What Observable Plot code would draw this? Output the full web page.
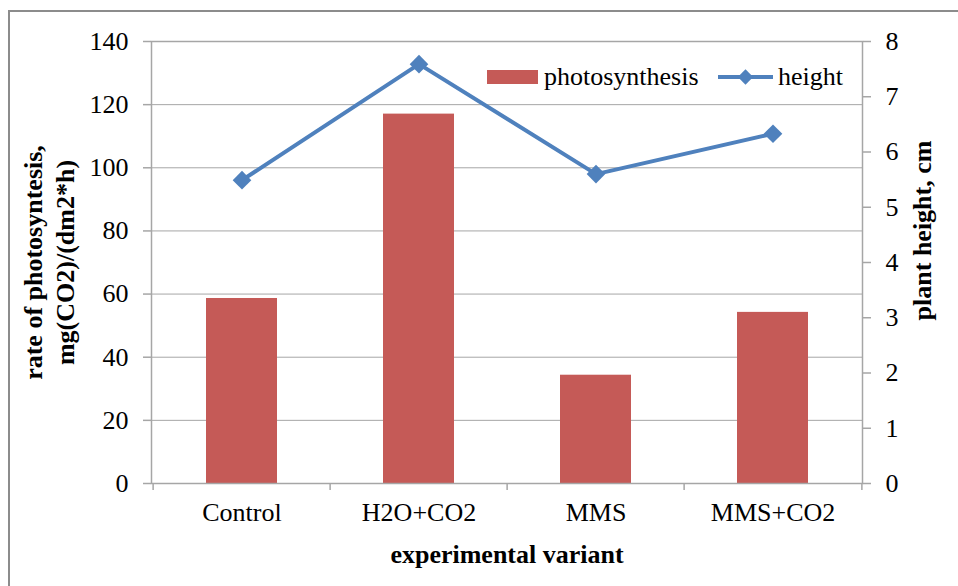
<!DOCTYPE html>
<html>
<head>
<meta charset="utf-8">
<script src="https://cdn.jsdelivr.net/npm/d3@7"></script>
<script src="https://cdn.jsdelivr.net/npm/@observablehq/plot@0.6"></script>
<style>
  html, body { margin: 0; padding: 0; background: white; }
  #wrap { position: relative; width: 958px; height: 586px; overflow: hidden; background: white; }
  #border { position: absolute; left: 8px; top: 10px; width: 2000px; height: 2000px;
            border-left: 2px solid #8c8c8c; border-top: 2px solid #8c8c8c; pointer-events: none; }
  #chart { position: absolute; left: 0; top: 0; }
</style>
</head>
<body>
<div id="wrap"><div id="chart"></div><div id="border"></div></div>
<script>
// ---- data ----
const categories = ["Control", "H2O+CO2", "MMS", "MMS+CO2"];
const photosynthesis = [58.6, 117, 34.3, 54.2];
const plantHeight = [5.49, 7.59, 5.6, 6.33];
const leftTicks = [0, 20, 40, 60, 80, 100, 120, 140];
const rightTicks = [0, 1, 2, 3, 4, 5, 6, 7, 8];
const leftMax = 140, rightMax = 8;

// ---- layout ----
const W = 958, H = 586;
const mL = 151, mR = 96, mT = 41, mB = 103;
const step = (W - mL - mR) / categories.length;
const k = leftMax / rightMax; // right axis -> left axis units
const red = "#c55a57", blue = "#4f81bd", gray = "#a6a6a6";
const font = "'Liberation Serif', 'Times New Roman', serif";

const rows = categories.map((c, i) => ({variant: c, photo: photosynthesis[i], height: plantHeight[i]}));

const plot = Plot.plot({
  width: W, height: H,
  marginLeft: mL, marginRight: mR, marginTop: mT, marginBottom: mB,
  style: {fontFamily: font, fontSize: "26px", color: "black", background: "white", overflow: "visible"},
  x: {type: "band", domain: categories, paddingInner: 0.6, paddingOuter: 0.3},
  y: {domain: [0, leftMax], nice: false},
  marks: [
    Plot.gridY(leftTicks, {stroke: gray, strokeOpacity: 1}),
    Plot.barY(rows, {x: "variant", y: "photo", fill: red}),
    Plot.frame({stroke: gray, strokeWidth: 1.5}),
    Plot.axisY(leftTicks, {anchor: "left", tickSize: 8, tickPadding: 15, stroke: gray, strokeWidth: 1.5, fill: "black", label: null}),
    Plot.axisY(rightTicks.map(v => v * k), {anchor: "right", tickSize: 8, tickPadding: 15, stroke: gray, strokeWidth: 1.5, fill: "black", label: null,
      tickFormat: d => String(Math.round(d / k))}),
    Plot.axisX(categories, {anchor: "bottom", tickSize: 7, stroke: gray, strokeWidth: 1.5, fill: "none", dx: -step / 2, label: null}),
    Plot.axisX([categories[categories.length - 1]], {anchor: "bottom", tickSize: 7, stroke: gray, strokeWidth: 1.5, fill: "none", dx: step / 2, label: null}),
    Plot.axisX(categories, {anchor: "bottom", tickSize: 0, tickPadding: 19, fill: "black", label: null}),
    Plot.line(rows, {x: "variant", y: d => d.height * k, stroke: blue, strokeWidth: 4, strokeLinejoin: "round"}),
    Plot.dot(rows, {x: "variant", y: d => d.height * k, symbol: "diamond2", r: 8.4, fill: blue, stroke: "none"}),
    Plot.text(["rate of photosyntesis,\nmg(CO2)/(dm2*h)"], {frameAnchor: "left", dx: -104, rotate: -90, textAnchor: "middle", fontWeight: "bold", lineHeight: 1.25, text: d => d}),
    Plot.text(["plant height, cm"], {frameAnchor: "right", dx: 60, dy: -32, rotate: -90, textAnchor: "middle", fontWeight: "bold", text: d => d}),
    Plot.text(["experimental variant"], {frameAnchor: "bottom", dy: 79, fontWeight: "bold", text: d => d})
  ]
});
document.getElementById("chart").appendChild(plot);

// ---- legend (inside plot, top right) ----
const svg = d3.select(plot);
const lg = svg.append("g").attr("font-family", font).attr("font-size", 26).attr("text-anchor", "start");
lg.append("rect").attr("x", 487).attr("y", 70).attr("width", 51).attr("height", 14).attr("fill", red);
lg.append("text").attr("x", 544).attr("y", 85).attr("fill", "black").text("photosynthesis");
lg.append("line").attr("x1", 718).attr("x2", 773).attr("y1", 77).attr("y2", 77).attr("stroke", blue).attr("stroke-width", 4);
lg.append("path").attr("d", d3.symbol(d3.symbolDiamond2, 150)()).attr("transform", "translate(745.5,77)").attr("fill", blue);
lg.append("text").attr("x", 778).attr("y", 85).attr("fill", "black").text("height");
</script>
</body>
</html>
